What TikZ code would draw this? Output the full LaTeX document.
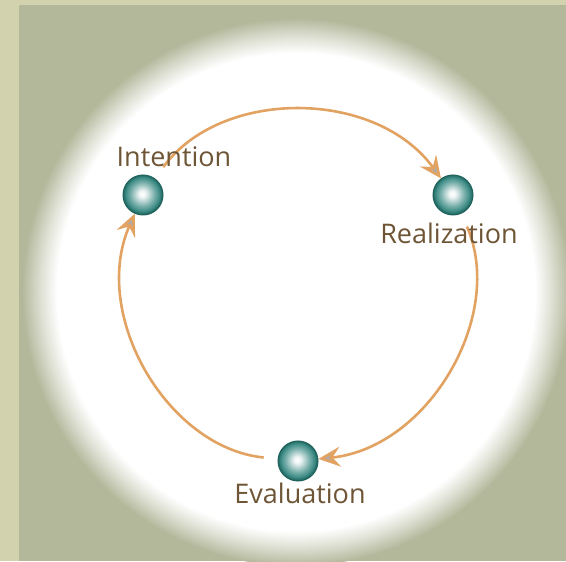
\documentclass[tikz,border=0pt]{standalone}
\usepackage{fontspec}
\setmainfont{Open Sans}
\usepackage{tikz}
\usetikzlibrary{arrows.meta}

\definecolor{panel}{HTML}{B3B89B}
\definecolor{strip}{HTML}{D2D2AE}
\definecolor{ring}{HTML}{E2A362}
\definecolor{ballmid}{HTML}{3E8C86}
\definecolor{balldark}{HTML}{1E625C}
\definecolor{word}{HTML}{6E5536}

\pgfdeclareradialshading{glow}{\pgfpoint{0bp}{0bp}}{color(0bp)=(white); color(21.8bp)=(white); color(23.2bp)=(white!60!panel); color(25bp)=(panel); color(50bp)=(panel)}
\pgfdeclareradialshading{ball}{\pgfpoint{-1bp}{1.5bp}}{color(0bp)=(white); color(4bp)=(white!92!ballmid); color(15bp)=(ballmid!70!white); color(21bp)=(ballmid); color(25bp)=(balldark); color(50bp)=(balldark)}

\begin{document}
\begin{tikzpicture}
    [
      x=0.5pt, y=0.5pt,
      Ball/.style={circle, shading=ball, draw=balldark, line width=0.5pt, minimum size=20pt, inner sep=0pt},
      Label/.style={text=word, font=\fontsize{13.5}{16}\selectfont, inner sep=1pt},
      Link/.style={draw=ring, line width=1.3pt, -{Stealth[length=11pt, width=10pt, inset=4pt, fill=gray!65]}, shorten <=7pt, bend left=54, looseness=1.0},
    ]

    % Background
    \useasboundingbox (0,0) rectangle (566,561);
    \fill[strip] (0,0) rectangle (566,561);
    \fill[panel] (19,0) rectangle (566,556);
    \begin{scope}
      \clip (19,0) rectangle (566,556);
      \shade[shading=glow] (296,269) circle (274);
    \end{scope}

    % Nodes
    \node[Ball] (intention) at (143, 366) {};
    \node[Ball] (realization) at (453, 366) {};
    \node[Ball] (evaluation) at (298, 100) {};

    % Lines
    \path[Link] (intention) to (realization);
    \path[Link] (realization) to (evaluation);
    \path[Link] (evaluation) to (intention);

    % Labels
    \node[Label] (intention-text) at (174, 404) {Intention};
    \node[Label] (realization-text) at (449, 328) {Realization};
    \node[Label] (evaluation-text) at (300, 68) {Evaluation};

\end{tikzpicture}
\end{document}
